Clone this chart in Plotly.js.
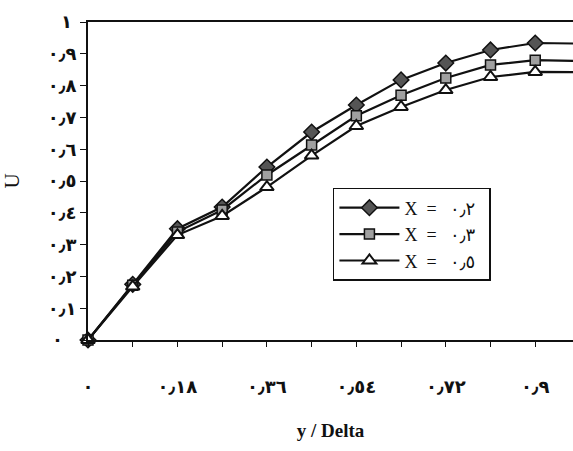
<!DOCTYPE html>
<html><head><meta charset="utf-8">
<script src="https://cdn.plot.ly/plotly-3.0.1.min.js"></script>
<style>html,body{margin:0;padding:0;background:#fff}</style>
</head><body>
<div id="chart" style="width:573px;height:451px"></div>
<script>
const xVals = [0, 0.09, 0.18, 0.27, 0.36, 0.45, 0.54, 0.63, 0.72, 0.81, 0.90, 0.99];
const seriesNames = ["X\u00a0\u00a0=\u00a0\u00a0\u00a0٠٫٢\u00a0\u00a0", "X\u00a0\u00a0=\u00a0\u00a0\u00a0٠٫٣\u00a0\u00a0", "X\u00a0\u00a0=\u00a0\u00a0\u00a0٠٫٥\u00a0\u00a0"];
const uX02 = [0, 0.175, 0.35, 0.418, 0.544, 0.654, 0.739, 0.818, 0.871, 0.912, 0.934, 0.932];
const uX03 = [0, 0.172, 0.34, 0.409, 0.519, 0.613, 0.705, 0.770, 0.824, 0.865, 0.880, 0.877];
const uX05 = [0, 0.168, 0.33, 0.390, 0.481, 0.580, 0.673, 0.733, 0.786, 0.827, 0.843, 0.842];
const xTickVals = [0, 0.09, 0.18, 0.27, 0.36, 0.45, 0.54, 0.63, 0.72, 0.81, 0.90];
const xTickText = ["٠", "", "٠٫١٨", "", "٠٫٣٦", "", "٠٫٥٤", "", "٠٫٧٢", "", "٠٫٩"];
const yTickVals = [0, 0.1, 0.2, 0.3, 0.4, 0.5, 0.6, 0.7, 0.8, 0.9, 1];
const yTickText = ["٠\u00a0\u00a0\u00a0", "٠٫١", "٠٫٢", "٠٫٣", "٠٫٤", "٠٫٥", "٠٫٦", "٠٫٧", "٠٫٨", "٠٫٩", "١\u00a0"];

const font = "Liberation Serif, Times New Roman, DejaVu Sans, serif";
const line = {color: "#111", width: 2.2};
const traces = [
  {x: xVals, y: uX02, name: seriesNames[0], mode: "lines+markers", line: line,
   marker: {symbol: "diamond", size: 12, color: "#555", line: {color: "#111", width: 1.5}}},
  {x: xVals, y: uX03, name: seriesNames[1], mode: "lines+markers", line: line,
   marker: {symbol: "square", size: 10, color: "#a0a0a0", line: {color: "#111", width: 1.5}}},
  {x: xVals, y: uX05, name: seriesNames[2], mode: "lines+markers", line: line,
   marker: {symbol: "triangle-up", size: 12, color: "#ffffff", line: {color: "#111", width: 2}}}
];
const layout = {
  width: 573, height: 451,
  margin: {l: 88, r: 0, t: 22, b: 111},
  paper_bgcolor: "#fff", plot_bgcolor: "#fff",
  showlegend: true,
  font: {family: font, color: "#111", size: 15},
  xaxis: {range: [0, 0.976], tickvals: xTickVals, ticktext: xTickText, ticks: "outside",
          ticklen: 5, tickcolor: "#111", showgrid: false, zeroline: false,
          showline: true, linecolor: "#111", linewidth: 2, mirror: true,
          ticklabelstandoff: 24, tickfont: {family: font, size: 18, color: "#111", weight: "bold"},
          title: {text: "<b>y / Delta</b>", font: {family: font, size: 19, color: "#111"}, standoff: 28}},
  yaxis: {range: [0, 1], tickvals: yTickVals, ticktext: yTickText, ticks: "outside",
          ticklen: 6, tickcolor: "#111", showgrid: false, zeroline: false,
          showline: true, linecolor: "#111", linewidth: 2,
          tickfont: {family: font, size: 18, color: "#111", weight: "bold"},
          title: {text: "U", font: {family: font, size: 21, color: "#111"}, standoff: 24}},
  legend: {x: 0.505, y: 0.478, xanchor: "left", yanchor: "top", bgcolor: "#fff",
           bordercolor: "#111", borderwidth: 1.5, itemwidth: 60,
           font: {family: font, size: 18, color: "#111"}, tracegroupgap: 5}
};
traces.forEach(t => t.cliponaxis = false);
Plotly.newPlot("chart", traces, layout, {displayModeBar: false, staticPlot: true});
</script>
</body></html>
